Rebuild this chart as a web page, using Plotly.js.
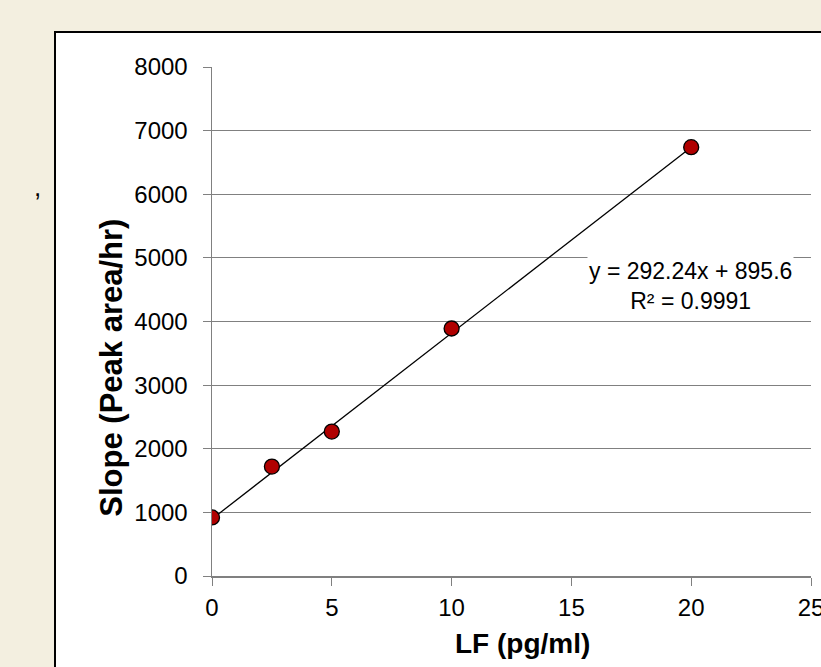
<!DOCTYPE html>
<html><head><script src="https://cdn.plot.ly/plotly-3.0.1.min.js"></script>
<style>
html,body{margin:0;padding:0;width:821px;height:667px;overflow:hidden;background:#F3EFE0;}
#box{position:absolute;left:54px;top:31px;width:800px;height:700px;border:2px solid #000;background:#fff;}
#plot{position:absolute;left:2px;top:0px;width:770px;height:640px;}
#comma{position:absolute;left:34px;top:172px;font:26px "Liberation Sans",Arial;color:#000;}
</style></head><body>
<div id="comma">,</div>
<div id="box"><div id="plot"></div></div>
<script>
var concentrations=[0,2.5,5,10,20];
var slopes=[920,1720,2270,3890,6740];
var fitSlope=292.24, fitIntercept=895.6;
var fitX=[0,20];
var fitY=fitX.map(function(x){return fitSlope*x+fitIntercept;});
var fam='"Liberation Sans",Arial,sans-serif';
function F(s){return {family:fam,color:'#000',size:s};}
Plotly.newPlot('plot',[
{x:fitX,y:fitY,mode:'lines',line:{color:'#000',width:1.3},hoverinfo:'skip'},
{x:concentrations,y:slopes,mode:'markers',marker:{size:15,color:'#B00000',line:{color:'#000',width:1.3}}}
],{
width:770,height:640,showlegend:false,paper_bgcolor:'#fff',plot_bgcolor:'#fff',
margin:{l:154,r:17,t:34,b:97},
xaxis:{range:[0,25],tickvals:[0,5,10,15,20,25],showgrid:false,zeroline:false,showline:true,linecolor:'#808080',linewidth:1.5,ticks:'outside',ticklen:8,tickcolor:'#808080',tickfont:F(24),ticklabelstandoff:2},
yaxis:{range:[0,8000],dtick:1000,showgrid:true,gridcolor:'#808080',gridwidth:1.2,zeroline:false,showline:true,linecolor:'#808080',linewidth:1.5,ticks:'outside',ticklen:8,tickcolor:'#808080',tickfont:F(24),ticklabelstandoff:10},
annotations:[
{xref:'x',yref:'y',x:19.95,y:4560,xanchor:'center',yanchor:'middle',text:'y = 292.24x + 895.6<br>R² = 0.9991',showarrow:false,align:'center',font:F(23),bgcolor:'#fff'},
{xref:'paper',yref:'paper',x:-0.168,y:0.41,xanchor:'center',yanchor:'middle',textangle:-90,text:'<b>Slope (Peak area/hr)</b>',showarrow:false,font:F(31)},
{xref:'paper',yref:'paper',x:0.518,y:-0.132,xanchor:'center',yanchor:'middle',text:'<b>LF (pg/ml)</b>',showarrow:false,font:F(28)}
]
},{staticPlot:true});
</script></body></html>
